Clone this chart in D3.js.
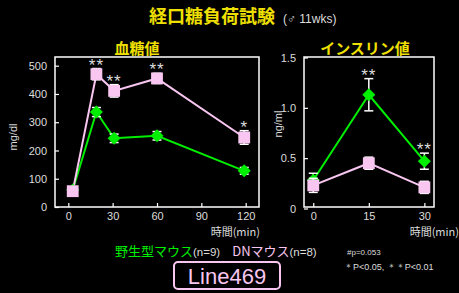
<!DOCTYPE html>
<html>
<head>
<meta charset="utf-8">
<script src="https://d3js.org/d3.v7.min.js"></script>
<style>
  body { margin: 0; background: #000; }
  svg { display: block; font-family: "Liberation Sans", Arial, sans-serif; }
</style>
</head>
<body>
<script>
// blood glucose (mg/dl)
const glucTime = [3, 19, 31, 60, 119];
const glucWT = [60, 336, 243, 252, 128];
const glucWTErr = [8, 16, 15, 15, 12];
const glucDN = [56, 470, 411, 455, 246];
const glucDNErr = [8, 20, 22, 18, 24];
const glucStars = ["", "**", "**", "**", "*"];
const glucTicksX = [0, 30, 60, 90, 120];
const glucTicksY = [0, 100, 200, 300, 400, 500];

// insulin (ng/ml)
const insTime = [0, 15, 30];
const insWT = [0.28, 1.13, 0.47];
const insWTErr = [0.07, 0.16, 0.08];
const insDN = [0.23, 0.45, 0.21];
const insDNErr = [0.07, 0.06, 0.06];
const insStars = ["", "**", "**"];
const insTicksX = [0, 15, 30];
const insTicksY = [0, 0.5, 1.0, 1.5];

const W = 459, H = 293;
const green = "#00ee00", pink = "#f8c6f0";

const svg = d3.select("body").append("svg").attr("width", W).attr("height", H);
svg.append("rect").attr("width", W).attr("height", H).attr("fill", "#000");

// titles
const title = svg.append("text").attr("x", 149).attr("y", 23).attr("font-size", 18)
  .attr("font-family", "Noto Sans CJK JP").attr("font-weight", "bold");
title.append("tspan").attr("fill", "#f0e000").text("経口糖負荷試験");
title.append("tspan").attr("fill", "#ddd").attr("font-size", 12).attr("font-weight", "normal")
  .attr("font-family", "Liberation Sans").attr("dx", 8).text("(♂ 11wks)");

function panel(opt) {
  const x = d3.scaleLinear().domain(opt.xDomain).range([opt.left, opt.right]);
  const y = d3.scaleLinear().domain(opt.yDomain).range(opt.yRange);
  const g = svg.append("g");

  g.append("text").attr("x", (opt.left + opt.right) / 2 + opt.titleDx).attr("y", 54)
    .attr("text-anchor", "middle").attr("fill", "#f0e000").attr("font-size", 15)
    .attr("font-family", "Noto Sans CJK JP").attr("font-weight", "bold").text(opt.title);

  // axes with inward ticks
  const ya = g.append("g").attr("transform", `translate(${opt.left},0)`)
    .call(d3.axisLeft(y).tickValues(opt.ticksY).tickSize(-4).tickPadding(8).tickFormat(opt.fmtY));
  const xa = g.append("g").attr("transform", `translate(0,${opt.bottom})`)
    .call(d3.axisBottom(x).tickValues(opt.ticksX).tickSize(-4).tickPadding(5));
  [ya, xa].forEach(a => {
    a.select(".domain").remove();
    a.selectAll("line").attr("stroke", "#fff").attr("stroke-width", 1.2);
    a.selectAll("text").attr("fill", "#ddd").attr("font-size", 11).attr("font-family", "Liberation Sans");
  });

  g.append("rect").attr("x", opt.left).attr("y", opt.top)
    .attr("width", opt.right - opt.left).attr("height", opt.bottom - opt.top)
    .attr("fill", "none").attr("stroke", "#fff").attr("stroke-width", 1.5);

  g.append("text").attr("transform", `translate(${opt.ylabX},${opt.ylabY}) rotate(-90)`)
    .attr("text-anchor", "middle").attr("fill", "#ddd").attr("font-size", 11).text(opt.ylab);
  g.append("text").attr("x", opt.xlabX).attr("y", 236).attr("text-anchor", "end")
    .attr("fill", "#ddd").attr("font-size", 11).attr("font-family", "Noto Sans CJK JP").text("時間(min)");

  const line = d3.line().x((d, i) => x(opt.t[i])).y(d => y(d));
  const series = [
    { v: opt.wt, e: opt.wtErr, c: green, shape: "diamond" },
    { v: opt.dn, e: opt.dnErr, c: pink, shape: "square" }
  ];
  series.forEach(s => {
    g.append("path").datum(s.v).attr("d", line).attr("fill", "none")
      .attr("stroke", s.c).attr("stroke-width", 2);
  });
  series.forEach(s => {
    const eb = g.append("g").selectAll("g").data(s.v).join("g");
    eb.append("line").attr("x1", (d, i) => x(opt.t[i])).attr("x2", (d, i) => x(opt.t[i]))
      .attr("y1", (d, i) => y(d - s.e[i])).attr("y2", (d, i) => y(d + s.e[i]))
      .attr("stroke", "#fff").attr("stroke-width", 1.5);
    [-1, 1].forEach(k => {
      eb.append("line").attr("x1", (d, i) => x(opt.t[i]) - 4.5).attr("x2", (d, i) => x(opt.t[i]) + 4.5)
        .attr("y1", (d, i) => y(d + k * s.e[i])).attr("y2", (d, i) => y(d + k * s.e[i]))
        .attr("stroke", "#fff").attr("stroke-width", 1.5);
    });
    const sq = s.shape === "square";
    g.append("g").selectAll("path").data(s.v).join("path")
      .attr("transform", (d, i) => `translate(${x(opt.t[i])},${y(d)}) rotate(${sq ? 0 : 45})`)
      .attr("d", d3.symbol(d3.symbolSquare, sq ? 140 : 85))
      .attr("fill", s.c);
  });

  g.append("g").selectAll("text").data(opt.stars).join("text")
    .attr("x", (d, i) => x(opt.t[i]))
    .attr("y", (d, i) => y(Math.max(opt.wt[i] + opt.wtErr[i], opt.dn[i] + opt.dnErr[i])) + 2)
    .attr("text-anchor", "middle").attr("fill", "#ddd").attr("font-size", 17)
    .attr("letter-spacing", 1).text(d => d);
}

panel({
  left: 55, right: 259, top: 57, bottom: 207,
  xDomain: [-9, 129], yDomain: [0, 500], yRange: [207, 65.7],
  ticksX: glucTicksX, ticksY: glucTicksY, fmtY: d3.format("d"),
  t: glucTime, wt: glucWT, wtErr: glucWTErr, dn: glucDN, dnErr: glucDNErr, stars: glucStars,
  title: "血糖値", titleDx: -20,
  ylab: "mg/dl", ylabX: 17, ylabY: 137, xlabX: 260
});

panel({
  left: 304, right: 434, top: 57, bottom: 207,
  xDomain: [-2.5, 32.6], yDomain: [0, 1.5], yRange: [208.5, 57.5],
  ticksX: insTicksX, ticksY: insTicksY, fmtY: d => d === 0 ? "0" : d3.format(".1f")(d),
  t: insTime, wt: insWT, wtErr: insWTErr, dn: insDN, dnErr: insDNErr, stars: insStars,
  title: "インスリン値", titleDx: -4,
  ylab: "ng/ml", ylabX: 282, ylabY: 124, xlabX: 459
});

// legend
const leg = svg.append("text").attr("x", 115).attr("y", 256).attr("font-size", 13);
leg.append("tspan").attr("fill", green).attr("font-family", "Noto Sans CJK JP").text("野生型マウス");
leg.append("tspan").attr("fill", "#ddd").attr("font-size", 11.5).text("(n=9)");
leg.append("tspan").attr("fill", pink).attr("dx", 12).attr("font-family", "Noto Sans CJK JP").text("DNマウス");
leg.append("tspan").attr("fill", "#ddd").attr("font-size", 11.5).text("(n=8)");

svg.append("text").attr("x", 347).attr("y", 255).attr("fill", "#ddd").attr("font-size", 8).text("#p=0.053");
svg.append("text").attr("x", 344).attr("y", 270).attr("fill", "#ddd").attr("font-size", 9)
  .text("＊P<0.05, ＊＊P<0.01");

svg.append("rect").attr("x", 174).attr("y", 262).attr("width", 106).attr("height", 27).attr("rx", 4)
  .attr("fill", "none").attr("stroke", pink).attr("stroke-width", 2);
svg.append("text").attr("x", 227).attr("y", 284).attr("text-anchor", "middle")
  .attr("fill", pink).attr("font-size", 22).text("Line469");
</script>
</body>
</html>
